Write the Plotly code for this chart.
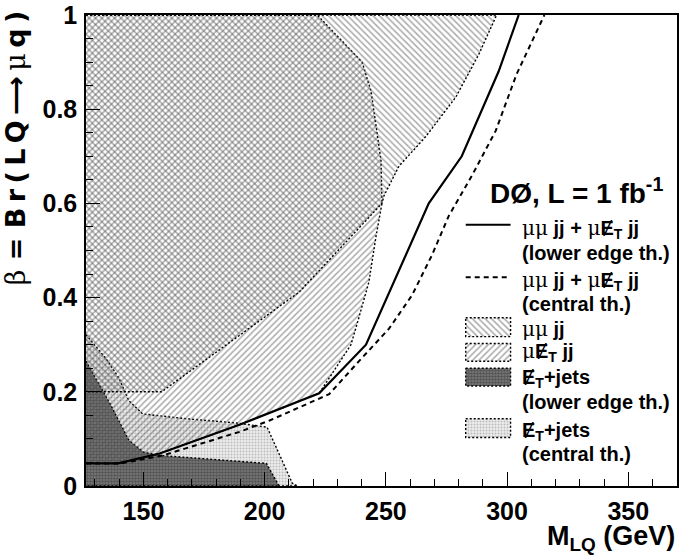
import plotly.graph_objects as go

# ---------------- data ----------------
# combined limit, lower edge of theory (solid)
m_lower = [126.3, 139.5, 156.7, 189.6, 222.5, 241.8, 267.7, 281.3, 296.5, 304.8]
b_lower = [0.048, 0.048, 0.069, 0.130, 0.197, 0.300, 0.600, 0.700, 0.880, 1.000]

# combined limit, central theory (dashed)
m_central = [126.3, 141.0, 158.0, 189.6, 202.0, 226.6, 238.9, 251.3, 260.8, 269.0, 276.0, 285.4, 295.3, 303.9, 315.4]
b_central = [0.048, 0.048, 0.065, 0.115, 0.139, 0.195, 0.265, 0.334, 0.405, 0.490, 0.574, 0.658, 0.754, 0.874, 1.000]

# mu mu jj excluded region (boundary polygon)
m_mumu = [126.3, 295.7, 288.3, 278.9, 266.5, 255.4, 249.2, 248.4, 214.3, 157.5, 126.3]
b_mumu = [1.000, 1.000, 0.916, 0.826, 0.742, 0.679, 0.616, 0.600, 0.412, 0.200, 0.200]

# mu MET jj excluded region (boundary polygon)
m_munu = [126.3, 221.7, 240.2, 243.9, 248.0, 248.4, 246.0, 243.0, 238.4, 235.6, 226.6,
          222.5, 189.6, 156.7, 139.5, 126.3]
b_munu = [1.000, 1.000, 0.900, 0.838, 0.691, 0.600, 0.532, 0.433, 0.349, 0.300, 0.229,
          0.197, 0.130, 0.069, 0.048, 0.048]

# MET+jets, central theory (light)
m_met_c = [126.3, 134.5, 139.9, 144.0, 149.7, 167.4, 188.0, 201.0, 211.4, 213.5, 126.3]
b_met_c = [0.321, 0.271, 0.229, 0.181, 0.153, 0.143, 0.134, 0.125, 0.006, 0.000, 0.000]

# MET+jets, lower edge theory (dark)
m_met_l = [126.3, 136.2, 144.0, 150.0, 156.7, 200.7, 206.0, 126.3]
b_met_l = [0.265, 0.175, 0.097, 0.072, 0.065, 0.048, 0.000, 0.000]

x_ticks = [150, 200, 250, 300, 350]
y_ticks = [0, 0.2, 0.4, 0.6, 0.8, 1]

# ---------------- styles ----------------
FONT = "Liberation Sans, Arial, sans-serif"
SERIF = "font-family:DejaVu Serif;font-weight:normal"
DOT = "2px,2px"
TS = "\u2009"  # thin space (ROOT-style wide title spacing)

def mu(s):
    return f'<span style="{SERIF}">{s}</span>'

light_pat = dict(shape=".", size=3, solidity=0.35, fgcolor="#8c8c8c", bgcolor="#ececec")
dark_pat = dict(shape=".", size=3, solidity=0.6, fgcolor="#2a2a2a", bgcolor="#7c7c7c")
fwd_pat = dict(shape="/", size=4.5, solidity=0.33, fgcolor="#555555", bgcolor="rgba(0,0,0,0)")
bck_pat = dict(shape="\\", size=4.5, solidity=0.33, fgcolor="#555555", bgcolor="rgba(0,0,0,0)")
border = dict(color="black", width=1.4, dash=DOT)

fig = go.Figure()

def region(m, b, pat, xa="x", ya="y"):
    fig.add_trace(go.Scatter(x=m, y=b, mode="lines", fill="toself",
                             fillcolor="rgba(0,0,0,0)", fillpattern=pat,
                             line=border, showlegend=False, hoverinfo="skip",
                             xaxis=xa, yaxis=ya))

region(m_met_c, b_met_c, light_pat)
region(m_met_l, b_met_l, dark_pat)
region(m_munu, b_munu, fwd_pat)
region(m_mumu, b_mumu, bck_pat)

fig.add_trace(go.Scatter(x=m_central, y=b_central, mode="lines",
                         line=dict(color="black", width=2, dash="5px,4px"),
                         showlegend=False, hoverinfo="skip"))
fig.add_trace(go.Scatter(x=m_lower, y=b_lower, mode="lines",
                         line=dict(color="black", width=2.2),
                         showlegend=False, hoverinfo="skip"))

# ---------------- hand-made legend (pixel coordinates on an overlay axis) ----------------
LX0, LX1 = 467, 512
fig.add_trace(go.Scatter(x=[LX0, LX1], y=[222, 222], mode="lines",
                         line=dict(color="black", width=2), xaxis="x2", yaxis="y2",
                         showlegend=False, hoverinfo="skip"))
fig.add_trace(go.Scatter(x=[LX0, LX1], y=[275, 275], mode="lines",
                         line=dict(color="black", width=2, dash="5px,4px"), xaxis="x2", yaxis="y2",
                         showlegend=False, hoverinfo="skip"))
for (y0, y1), pat in [((316, 335), bck_pat), ((342, 360), fwd_pat),
                      ((367, 385), dark_pat), ((418, 437), light_pat)]:
    region([LX0, LX1, LX1, LX0, LX0], [y0, y0, y1, y1, y0], pat, "x2", "y2")

ann = []
def label(x, y, text, size=20, anchor="left"):
    ann.append(dict(x=x, y=y, xref="x2", yref="y2", text=text, showarrow=False,
                    xanchor=anchor, yanchor="middle",
                    font=dict(family=FONT, size=size, color="black", weight="bold")))

label(489, 188, "DØ, L = 1 fb<sup>-1</sup>", size=28)
label(521, 226, f"{mu('μμ')} jj + {mu('μ')}Ɇ<sub>T</sub> jj")
label(521, 251, "(lower edge th.)")
label(521, 279, f"{mu('μμ')} jj + {mu('μ')}Ɇ<sub>T</sub> jj")
label(521, 302, "(central th.)")
label(521, 327, f"{mu('μμ')} jj")
label(521, 351, f"{mu('μ')}Ɇ<sub>T</sub> jj")
label(521, 377, "Ɇ<sub>T</sub>+jets")
label(521, 401, "(lower edge th.)")
label(521, 431, "Ɇ<sub>T</sub>+jets")
label(521, 454, "(central th.)")

# axis titles
ytitle = (mu("β") + " = " + TS.join("Br(LQ") + TS + "⟶" + TS + mu("μ") + TS + "q" + TS + ")")
ann.append(dict(x=-0.118, y=1.014, xref="paper", yref="paper", textangle=-90,
                text=ytitle,
                showarrow=False, xanchor="center", yanchor="top",
                font=dict(family="DejaVu Sans", size=27, color="black", weight="bold")))
ann.append(dict(x=1.0, y=-0.070, xref="paper", yref="paper",
                text="M<sub>LQ</sub> (GeV)", showarrow=False,
                xanchor="right", yanchor="top",
                font=dict(family=FONT, size=27, color="black", weight="bold")))

tickfont = dict(family=FONT, size=25, color="black", weight="bold")
fig.update_layout(
    width=680, height=557, autosize=False,
    margin=dict(l=86, r=1, t=10, b=71),
    paper_bgcolor="white", plot_bgcolor="white",
    showlegend=False,
    annotations=ann,
    xaxis=dict(range=[126.3, 370.1], tickvals=x_ticks, ticks="inside", ticklen=14,
               tickwidth=1.2, tickcolor="black", showline=True, linecolor="black",
               linewidth=1.5, mirror=True, showgrid=False, zeroline=False,
               tickfont=tickfont, ticklabelstandoff=2, ticklabeloverflow="allow",
               minor=dict(dtick=10, tick0=0, ticks="inside", ticklen=7,
                          tickwidth=1, tickcolor="black", showgrid=False)),
    yaxis=dict(range=[0, 1], tickvals=y_ticks, ticks="inside", ticklen=14,
               tickwidth=1.2, tickcolor="black", showline=True, linecolor="black",
               linewidth=1.5, mirror=True, showgrid=False, zeroline=False,
               tickfont=tickfont, ticklabelstandoff=2, ticklabeloverflow="allow",
               minor=dict(dtick=0.05, tick0=0, ticks="inside", ticklen=7,
                          tickwidth=1, tickcolor="black", showgrid=False)),
    xaxis2=dict(overlaying="x", anchor="y", range=[86, 679], visible=False),
    yaxis2=dict(overlaying="y", anchor="x", range=[486, 10], visible=False),
)

POST = ("document.documentElement.style.margin='0';document.body.style.margin='0';"
        "document.documentElement.style.overflow='hidden';document.body.style.overflow='hidden';"
        "var gd=document.getElementById('{plot_id}');"
        "Plotly.relayout(gd,{width:680,height:557});")

fig.write_html("out.html", config={"responsive": False, "displayModeBar": False},
               post_script=POST)
